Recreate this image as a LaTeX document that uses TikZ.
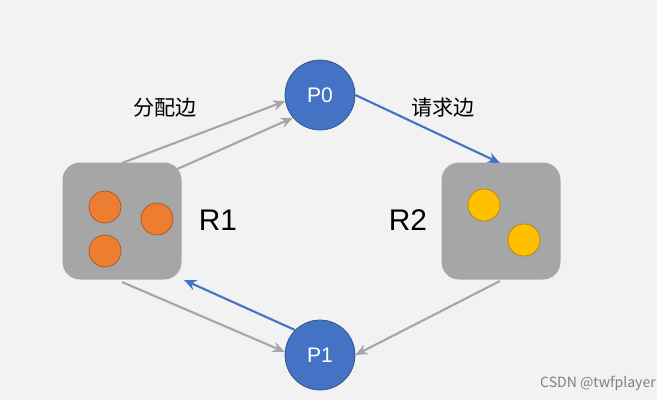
\documentclass[tikz,border=0pt]{standalone}
\usepackage{fontspec}
\setmainfont{Liberation Sans}
\newfontfamily\cjk{Noto Sans CJK SC}
\usetikzlibrary{arrows.meta}
\definecolor{bg}{HTML}{F2F2F2}
\definecolor{box}{HTML}{A6A6A6}
\definecolor{pblue}{HTML}{4472C4}
\definecolor{org}{HTML}{ED7D31}
\definecolor{yel}{HTML}{FFC000}
\definecolor{edge}{HTML}{A6A6A6}
\begin{document}
\begin{tikzpicture}[x=0.02cm,y=-0.02cm,
 proc/.style={circle,fill=pblue,draw=pblue!70!black,minimum size=70*0.02cm,inner sep=0,text=white,font=\large},
 res/.style={rounded corners=10pt,fill=box,minimum width=119*0.02cm,minimum height=117*0.02cm},
 dot/.style={circle,draw=#1!70!black,fill=#1,minimum size=32*0.02cm,inner sep=0},
 ga/.style={draw=edge,line width=1.2pt,-{Stealth[length=7pt,width=6pt]}},
 ba/.style={draw=pblue,line width=1.2pt,-{Stealth[length=7pt,width=6pt]}},
 lab/.style={font=\cjk\fontsize{12}{14}\selectfont}]
\fill[bg] (0,0) rectangle (657,400);
\useasboundingbox (0,0) rectangle (657,400);
\node[proc] (P0) at (320,95) {P0};
\node[proc] (P1) at (320,355) {P1};
\node[res] (R1) at (122,221) {};
\node[res] (R2) at (501,221) {};
\node[dot=org] (o1) at (105,207) {};
\node[dot=org] (o2) at (157,219) {};
\node[dot=org] (o3) at (105,251) {};
\node[dot=yel] (y1) at (484,205) {};
\node[dot=yel] (y2) at (524,240) {};
\node[font=\fontsize{17}{20}\selectfont] (l1) at (218,220) {R1};
\node[font=\fontsize{17}{20}\selectfont] (l2) at (408,220) {R2};
\node[lab] (fp) at (165,108) {分配边};
\node[lab] (qq) at (443,108) {请求边};
\node[font=\cjk\fontsize{8}{10}\selectfont,text=gray] (wm) at (598,383) {CSDN @twfplayer};
\coordinate (a1) at (122,163); \coordinate (a2) at (175,170);
\coordinate (c1) at (500,163); \coordinate (c2) at (500,281);
\coordinate (d1) at (122,282); \coordinate (d2) at (184,280);
\draw[ga] (a1) -- (P0.190);
\draw[ga] (a2) -- (P0.220);
\draw[ba] (P0.east) -- (c1);
\draw[ga] (c2) -- (P1.east);
\draw[ga] (d1) -- (P1.175);
\draw[ba] (P1.135) -- (d2);
\end{tikzpicture}
\end{document}
